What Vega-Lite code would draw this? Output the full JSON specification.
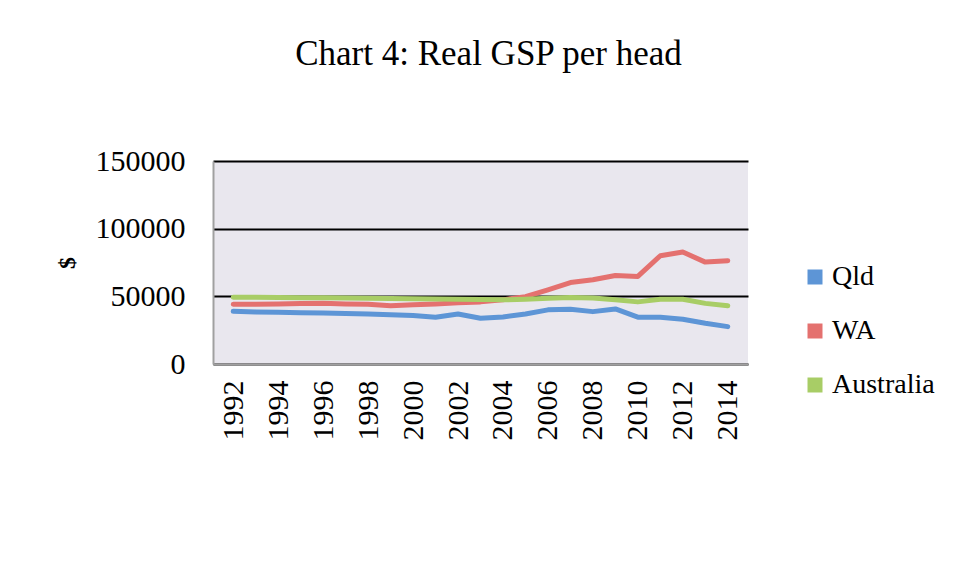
{
  "$schema": "https://vega.github.io/schema/vega-lite/v6.json",
  "width": 535,
  "height": 203,
  "autosize": {"type": "none"},
  "padding": {"left": 213, "top": 161, "right": 209, "bottom": 214},
  "background": "white",
  "title": {
    "text": "Chart 4: Real GSP per head",
    "font": "Liberation Serif",
    "fontSize": 35,
    "fontWeight": "normal",
    "color": "black",
    "anchor": "middle",
    "frame": "group",
    "offset": 74,
    "dx": 8
  },
  "data": {
    "values": [
      {"Year": 1992, "Series": "Qld", "Value": 38900},
      {"Year": 1993, "Series": "Qld", "Value": 38500},
      {"Year": 1994, "Series": "Qld", "Value": 38300},
      {"Year": 1995, "Series": "Qld", "Value": 37900},
      {"Year": 1996, "Series": "Qld", "Value": 37600},
      {"Year": 1997, "Series": "Qld", "Value": 37300},
      {"Year": 1998, "Series": "Qld", "Value": 37000},
      {"Year": 1999, "Series": "Qld", "Value": 36400},
      {"Year": 2000, "Series": "Qld", "Value": 35800},
      {"Year": 2001, "Series": "Qld", "Value": 34600},
      {"Year": 2002, "Series": "Qld", "Value": 37000},
      {"Year": 2003, "Series": "Qld", "Value": 33800},
      {"Year": 2004, "Series": "Qld", "Value": 34800},
      {"Year": 2005, "Series": "Qld", "Value": 37000},
      {"Year": 2006, "Series": "Qld", "Value": 40000},
      {"Year": 2007, "Series": "Qld", "Value": 40500},
      {"Year": 2008, "Series": "Qld", "Value": 38700},
      {"Year": 2009, "Series": "Qld", "Value": 40700},
      {"Year": 2010, "Series": "Qld", "Value": 34600},
      {"Year": 2011, "Series": "Qld", "Value": 34600},
      {"Year": 2012, "Series": "Qld", "Value": 33100},
      {"Year": 2013, "Series": "Qld", "Value": 30100},
      {"Year": 2014, "Series": "Qld", "Value": 27600},
      {"Year": 1992, "Series": "WA", "Value": 44100},
      {"Year": 1993, "Series": "WA", "Value": 44200},
      {"Year": 1994, "Series": "WA", "Value": 44400},
      {"Year": 1995, "Series": "WA", "Value": 44700},
      {"Year": 1996, "Series": "WA", "Value": 44800},
      {"Year": 1997, "Series": "WA", "Value": 44400},
      {"Year": 1998, "Series": "WA", "Value": 44100},
      {"Year": 1999, "Series": "WA", "Value": 43000},
      {"Year": 2000, "Series": "WA", "Value": 43700},
      {"Year": 2001, "Series": "WA", "Value": 44400},
      {"Year": 2002, "Series": "WA", "Value": 45200},
      {"Year": 2003, "Series": "WA", "Value": 45900},
      {"Year": 2004, "Series": "WA", "Value": 47400},
      {"Year": 2005, "Series": "WA", "Value": 49800},
      {"Year": 2006, "Series": "WA", "Value": 54800},
      {"Year": 2007, "Series": "WA", "Value": 60200},
      {"Year": 2008, "Series": "WA", "Value": 62200},
      {"Year": 2009, "Series": "WA", "Value": 65400},
      {"Year": 2010, "Series": "WA", "Value": 64700},
      {"Year": 2011, "Series": "WA", "Value": 80000},
      {"Year": 2012, "Series": "WA", "Value": 82700},
      {"Year": 2013, "Series": "WA", "Value": 75300},
      {"Year": 2014, "Series": "WA", "Value": 76300},
      {"Year": 1992, "Series": "Australia", "Value": 49400},
      {"Year": 1993, "Series": "Australia", "Value": 49300},
      {"Year": 1994, "Series": "Australia", "Value": 49100},
      {"Year": 1995, "Series": "Australia", "Value": 49000},
      {"Year": 1996, "Series": "Australia", "Value": 48900},
      {"Year": 1997, "Series": "Australia", "Value": 48700},
      {"Year": 1998, "Series": "Australia", "Value": 48600},
      {"Year": 1999, "Series": "Australia", "Value": 48400},
      {"Year": 2000, "Series": "Australia", "Value": 48300},
      {"Year": 2001, "Series": "Australia", "Value": 48000},
      {"Year": 2002, "Series": "Australia", "Value": 47800},
      {"Year": 2003, "Series": "Australia", "Value": 47600},
      {"Year": 2004, "Series": "Australia", "Value": 47400},
      {"Year": 2005, "Series": "Australia", "Value": 47800},
      {"Year": 2006, "Series": "Australia", "Value": 48500},
      {"Year": 2007, "Series": "Australia", "Value": 49100},
      {"Year": 2008, "Series": "Australia", "Value": 48700},
      {"Year": 2009, "Series": "Australia", "Value": 47400},
      {"Year": 2010, "Series": "Australia", "Value": 45900},
      {"Year": 2011, "Series": "Australia", "Value": 47800},
      {"Year": 2012, "Series": "Australia", "Value": 47900},
      {"Year": 2013, "Series": "Australia", "Value": 44800},
      {"Year": 2014, "Series": "Australia", "Value": 43000}
    ]
  },
  "mark": {"type": "line", "strokeWidth": 5, "strokeCap": "round", "strokeJoin": "round"},
  "encoding": {
    "x": {
      "field": "Year",
      "type": "quantitative",
      "scale": {"domain": [1991.1, 2014.9], "nice": false, "zero": false},
      "axis": {
        "values": [1992, 1994, 1996, 1998, 2000, 2002, 2004, 2006, 2008, 2010, 2012, 2014],
        "format": "d",
        "labelAngle": -90,
        "labelAlign": "right",
        "labelBaseline": "middle",
        "labelFont": "Liberation Serif",
        "labelFontSize": 30,
        "labelColor": "black",
        "labelFlush": false,
        "labelOverlap": false,
        "ticks": false,
        "domain": true,
        "domainColor": "#a0a0a0",
        "domainWidth": 2,
        "grid": false,
        "labelPadding": 16,
        "title": null
      }
    },
    "y": {
      "field": "Value",
      "type": "quantitative",
      "scale": {"domain": [0, 150000], "nice": false},
      "axis": {
        "values": [0, 50000, 100000, 150000],
        "format": "d",
        "labelFont": "Liberation Serif",
        "labelFontSize": 30,
        "labelColor": "black",
        "labelFlush": false,
        "ticks": false,
        "domain": true,
        "domainColor": "#a0a0a0",
        "domainWidth": 2,
        "grid": true,
        "gridColor": "black",
        "gridWidth": 2,
        "labelPadding": 28,
        "title": "$",
        "titleFont": "Liberation Serif",
        "titleFontSize": 24,
        "titleFontWeight": "bold",
        "titleColor": "black",
        "titlePadding": 16
      }
    },
    "color": {
      "field": "Series",
      "type": "nominal",
      "scale": {"domain": ["Qld", "WA", "Australia"], "range": ["#5d95d6", "#e4716f", "#a8cd66"]},
      "legend": {
        "orient": "none",
        "legendX": 588,
        "legendY": 102,
        "title": null,
        "padding": 0,
        "symbolType": "square",
        "symbolSize": 225,
        "symbolStrokeWidth": 0,
        "labelFont": "Liberation Serif",
        "labelFontSize": 28,
        "labelColor": "black",
        "labelOffset": 3,
        "rowPadding": 26,
        "encode": {
          "symbols": {
            "update": {
              "fill": {"scale": "color", "field": "value"},
              "stroke": {"value": "transparent"}
            }
          }
        }
      }
    }
  },
  "config": {
    "view": {"fill": "#e9e7ee", "stroke": null}
  }
}
